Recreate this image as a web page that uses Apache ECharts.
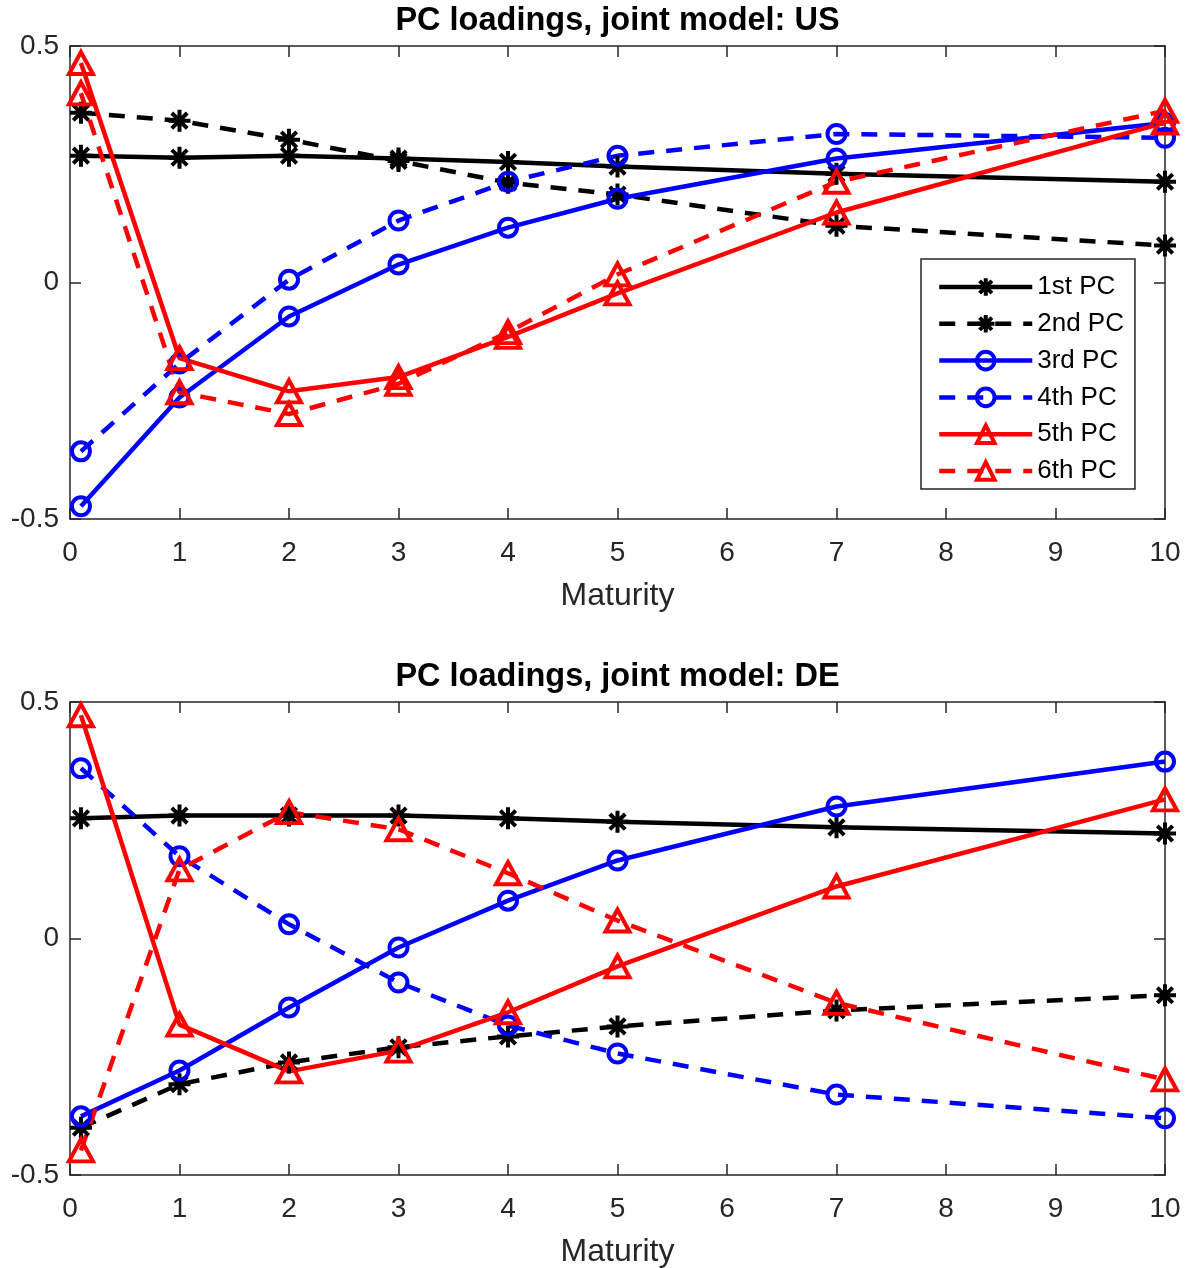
<!DOCTYPE html>
<html><head><meta charset="utf-8">
<script src="https://cdn.jsdelivr.net/npm/echarts@6/dist/echarts.min.js"></script>
<style>html,body{margin:0;padding:0;background:#fff}#c{width:1186px;height:1268px}</style>
</head><body><div id="c"></div>
<script>
// ---- data ----
const maturities = [0.1, 1, 2, 3, 4, 5, 7, 10];
const seriesNames = ['1st PC', '2nd PC', '3rd PC', '4th PC', '5th PC', '6th PC'];
const panelTitles = ['PC loadings, joint model: US', 'PC loadings, joint model: DE'];
const xAxisName = 'Maturity';

const us_pc1 = [0.268, 0.264, 0.268, 0.262, 0.255, 0.245, 0.230, 0.213];
const us_pc2 = [0.359, 0.342, 0.302, 0.257, 0.211, 0.186, 0.120, 0.078];
const us_pc3 = [-0.473, -0.243, -0.072, 0.038, 0.116, 0.177, 0.262, 0.337];
const us_pc4 = [-0.357, -0.171, 0.006, 0.131, 0.213, 0.268, 0.314, 0.306];
const us_pc5 = [0.464, -0.160, -0.230, -0.200, -0.115, -0.023, 0.148, 0.338];
const us_pc6 = [0.400, -0.232, -0.278, -0.214, -0.105, 0.017, 0.213, 0.363];

const de_pc1 = [0.254, 0.260, 0.260, 0.260, 0.254, 0.247, 0.235, 0.222];
const de_pc2 = [-0.400, -0.308, -0.262, -0.230, -0.207, -0.186, -0.152, -0.120];
const de_pc3 = [-0.376, -0.279, -0.146, -0.019, 0.080, 0.165, 0.279, 0.374];
const de_pc4 = [0.360, 0.174, 0.030, -0.093, -0.184, -0.243, -0.330, -0.380];
const de_pc5 = [0.472, -0.182, -0.281, -0.237, -0.156, -0.059, 0.110, 0.294];
const de_pc6 = [-0.448, 0.146, 0.267, 0.231, 0.138, 0.038, -0.136, -0.298];

const xMin = 0, xMax = 10, xStep = 1;
const yMin = -0.5, yMax = 0.5, yStep = 0.5;

// ---- styles ----
const FONT = 'Arial, "Liberation Sans", Helvetica, sans-serif';
const AX = '#262626';
const DASH = [16, 12];
const ASTERISK = 'path://M10 0L10 20M0 10L20 10M3 3L17 17M3 17L17 3';
const styles = [
  { color: '#000000', type: 'solid', symbol: ASTERISK, size: 22 },
  { color: '#000000', type: DASH, symbol: ASTERISK, size: 22 },
  { color: '#0000ff', type: 'solid', symbol: 'circle', size: 18 },
  { color: '#0000ff', type: DASH, symbol: 'circle', size: 18 },
  { color: '#ff0000', type: 'solid', symbol: 'triangle', size: [24, 22] },
  { color: '#ff0000', type: DASH, symbol: 'triangle', size: [24, 22] }
];
const panels = [
  [us_pc1, us_pc2, us_pc3, us_pc4, us_pc5, us_pc6],
  [de_pc1, de_pc2, de_pc3, de_pc4, de_pc5, de_pc6]
];

const grids = [
  { left: 70, right: 21, top: 46, height: 473, outerBoundsMode: 'none', containLabel: false },
  { left: 70, right: 21, top: 702, height: 473, outerBoundsMode: 'none', containLabel: false }
];

const xAxes = [], yAxes = [];
grids.forEach((g, gi) => {
  const common = {
    gridIndex: gi, type: 'value', min: xMin, max: xMax, interval: xStep,
    axisLine: { show: true, onZero: false, lineStyle: { color: AX, width: 1.5 } },
    axisTick: { show: true, inside: true, length: 11, lineStyle: { color: AX, width: 1.5 } },
    splitLine: { show: false }
  };
  xAxes.push(Object.assign({}, common, {
    position: 'bottom',
    axisLabel: { show: true, fontSize: 28, color: AX, margin: 20, fontFamily: FONT, interval: 0, hideOverlap: false },
    name: xAxisName, nameLocation: 'middle', nameGap: 61,
    nameTextStyle: { fontSize: 32, color: AX, fontFamily: FONT }
  }));
  xAxes.push(Object.assign({}, common, { position: 'top', axisLabel: { show: false } }));
  const ycommon = {
    gridIndex: gi, type: 'value', min: yMin, max: yMax, interval: yStep,
    axisLine: { show: true, onZero: false, lineStyle: { color: AX, width: 1.5 } },
    axisTick: { show: true, inside: true, length: 11, lineStyle: { color: AX, width: 1.5 } },
    splitLine: { show: false }
  };
  yAxes.push(Object.assign({}, ycommon, {
    position: 'left',
    axisLabel: { show: true, fontSize: 28, color: AX, margin: 11, fontFamily: FONT, hideOverlap: false, padding: [5, 0, 0, 0] }
  }));
  yAxes.push(Object.assign({}, ycommon, { position: 'right', axisLabel: { show: false } }));
});

const series = [];
panels.forEach((vals, gi) => {
  vals.forEach((ys, si) => {
    const st = styles[si];
    series.push({
      type: 'line', name: seriesNames[si],
      xAxisIndex: gi * 2, yAxisIndex: gi * 2,
      data: maturities.map((m, i) => [m, ys[i]]),
      symbol: st.symbol, symbolSize: st.size, showSymbol: true, showAllSymbol: true,
      symbolKeepAspect: false, clip: false,
      lineStyle: { color: st.color, width: 4.5, type: st.type },
      itemStyle: { color: 'rgba(255,255,255,0)', borderColor: st.color, borderWidth: 4 },
      emphasis: { disabled: true },
      animation: false
    });
  });
});

const titleGraphics = panelTitles.map((t, i) => ({
  type: 'text', x: 617.5, y: i === 0 ? 21 : 677,
  style: { text: t, fontSize: 32.5, fontWeight: 'bold', fontFamily: FONT, fill: '#000', align: 'center', verticalAlign: 'middle' }
}));

const chart = echarts.init(document.getElementById('c'), null, { renderer: 'canvas' });
chart.setOption({
  backgroundColor: '#ffffff',
  animation: false,
  grid: grids,
  xAxis: xAxes,
  yAxis: yAxes,
  graphic: titleGraphics,
  legend: {
    data: seriesNames, orient: 'vertical', left: 921, top: 259,
    itemWidth: 93, itemHeight: 22, itemGap: 10.8,
    padding: [15, 11, 5, 16],
    borderColor: AX, borderWidth: 1.5, backgroundColor: '#ffffff',
    lineStyle: { width: 4.5 },
    itemStyle: { borderWidth: 4 },
    textStyle: { fontSize: 26, color: '#000', fontFamily: FONT },
    selectedMode: false
  },
  series: series
});
</script></body></html>
